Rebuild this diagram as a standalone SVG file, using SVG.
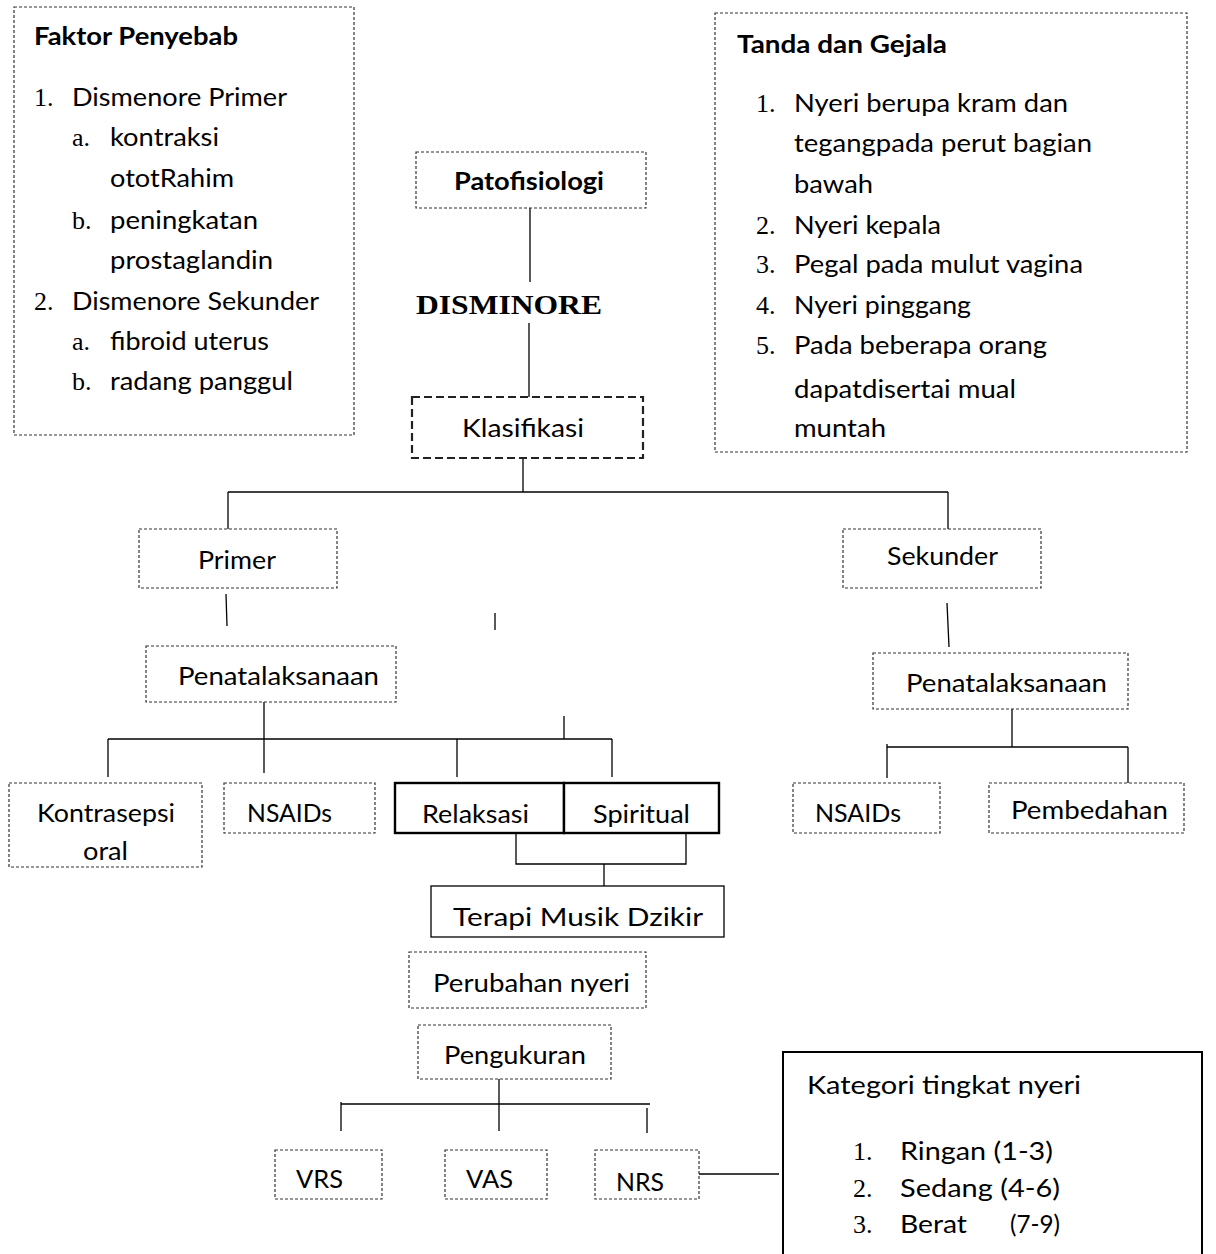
<svg xmlns="http://www.w3.org/2000/svg" width="1216" height="1254" viewBox="0 0 1216 1254">
<style>
  .dash { fill: #fff; stroke: #333; stroke-width: 1.2; stroke-dasharray: 3 2; }
  .dashB { fill: #fff; stroke: #222; stroke-width: 2.2; stroke-dasharray: 8 4; }
  .solid { fill: #fff; stroke: #000; stroke-width: 1.3; }
  .solidB { fill: #fff; stroke: #000; stroke-width: 2.4; }
  .t { font-family: Lato, "Open Sans", "Liberation Sans", sans-serif; font-size: 25px; fill: #000; }
  .b { font-weight: bold; }
  .n { font-family: "Liberation Serif", "Times New Roman", serif; font-size: 26px; fill: #000; }
  .ln { fill: none; stroke: #000; stroke-width: 1.3; }
</style>
<rect width="1216" height="1254" fill="#fff"/>

<g id="connectors">
  <line class="ln" x1="530" y1="208" x2="530" y2="282"/>
  <line class="ln" x1="529" y1="323" x2="529" y2="397"/>
  <line class="ln" x1="523" y1="458" x2="523" y2="492"/>
  <line class="ln" x1="228" y1="492" x2="948" y2="492"/>
  <line class="ln" x1="228" y1="492" x2="228" y2="529"/>
  <line class="ln" x1="948" y1="492" x2="948" y2="529"/>
  <line class="ln" x1="226" y1="594" x2="227" y2="626"/>
  <line class="ln" x1="495" y1="613" x2="495" y2="630"/>
  <line class="ln" x1="947" y1="603" x2="949" y2="647"/>
  <line class="ln" x1="264" y1="702" x2="264" y2="773"/>
  <line class="ln" x1="108" y1="739" x2="612" y2="739"/>
  <line class="ln" x1="108" y1="739" x2="108" y2="777"/>
  <line class="ln" x1="457" y1="739" x2="457" y2="777"/>
  <line class="ln" x1="612" y1="739" x2="612" y2="777"/>
  <line class="ln" x1="564" y1="716" x2="564" y2="739"/>
  <line class="ln" x1="1012" y1="709" x2="1012" y2="747"/>
  <line class="ln" x1="887" y1="747" x2="1128" y2="747"/>
  <line class="ln" x1="887" y1="744" x2="887" y2="778"/>
  <line class="ln" x1="1128" y1="747" x2="1128" y2="783"/>
  <polyline class="ln" points="516,833 516,864 686,864 686,833"/>
  <line class="ln" x1="604" y1="864" x2="604" y2="886"/>
  <line class="ln" x1="499" y1="1079" x2="499" y2="1131"/>
  <line class="ln" x1="341" y1="1104" x2="650" y2="1104"/>
  <line class="ln" x1="341" y1="1102" x2="341" y2="1131"/>
  <line class="ln" x1="647" y1="1108" x2="647" y2="1133"/>
  <line class="ln" x1="699" y1="1174" x2="779" y2="1174"/>
</g>

<g id="faktor-penyebab">
  <rect class="dash" x="14" y="7" width="340" height="428"/>
  <text class="t b" x="34" y="45" textLength="204" lengthAdjust="spacingAndGlyphs">Faktor Penyebab</text>
  <text class="n" x="34" y="106">1.</text>
  <text class="t" x="72" y="106" textLength="215" lengthAdjust="spacingAndGlyphs">Dismenore Primer</text>
  <text class="n" x="72" y="146">a.</text>
  <text class="t" x="110" y="146" textLength="109" lengthAdjust="spacingAndGlyphs">kontraksi</text>
  <text class="t" x="110" y="187" textLength="124" lengthAdjust="spacingAndGlyphs">ototRahim</text>
  <text class="n" x="72" y="229">b.</text>
  <text class="t" x="110" y="229" textLength="148" lengthAdjust="spacingAndGlyphs">peningkatan</text>
  <text class="t" x="110" y="269" textLength="163" lengthAdjust="spacingAndGlyphs">prostaglandin</text>
  <text class="n" x="34" y="310">2.</text>
  <text class="t" x="72" y="310" textLength="247" lengthAdjust="spacingAndGlyphs">Dismenore Sekunder</text>
  <text class="n" x="72" y="350">a.</text>
  <text class="t" x="110" y="350" textLength="159" lengthAdjust="spacingAndGlyphs">fibroid uterus</text>
  <text class="n" x="72" y="390">b.</text>
  <text class="t" x="110" y="390" textLength="183" lengthAdjust="spacingAndGlyphs">radang panggul</text>
</g>

<g id="tanda-gejala">
  <rect class="dash" x="715" y="13" width="472" height="439"/>
  <text class="t b" x="737" y="53" textLength="210" lengthAdjust="spacingAndGlyphs">Tanda dan Gejala</text>
  <text class="n" x="756" y="112">1.</text>
  <text class="t" x="794" y="112" textLength="274" lengthAdjust="spacingAndGlyphs">Nyeri berupa kram dan</text>
  <text class="t" x="794" y="152" textLength="298" lengthAdjust="spacingAndGlyphs">tegangpada perut bagian</text>
  <text class="t" x="794" y="193" textLength="79" lengthAdjust="spacingAndGlyphs">bawah</text>
  <text class="n" x="756" y="234">2.</text>
  <text class="t" x="794" y="234" textLength="147" lengthAdjust="spacingAndGlyphs">Nyeri kepala</text>
  <text class="n" x="756" y="273">3.</text>
  <text class="t" x="794" y="273" textLength="289" lengthAdjust="spacingAndGlyphs">Pegal pada mulut vagina</text>
  <text class="n" x="756" y="314">4.</text>
  <text class="t" x="794" y="314" textLength="177" lengthAdjust="spacingAndGlyphs">Nyeri pinggang</text>
  <text class="n" x="756" y="354">5.</text>
  <text class="t" x="794" y="354" textLength="253" lengthAdjust="spacingAndGlyphs">Pada beberapa orang</text>
  <text class="t" x="794" y="398" textLength="222" lengthAdjust="spacingAndGlyphs">dapatdisertai mual</text>
  <text class="t" x="794" y="437" textLength="92" lengthAdjust="spacingAndGlyphs">muntah</text>
</g>

<g id="patofisiologi">
  <rect class="dash" x="416" y="152" width="230" height="56"/>
  <text class="t b" x="454" y="190" textLength="150" lengthAdjust="spacingAndGlyphs">Patofisiologi</text>
</g>

<g id="disminore">
  <text x="416" y="314" font-family="'Liberation Serif', 'Times New Roman', serif" font-size="27" font-weight="bold" textLength="186" lengthAdjust="spacingAndGlyphs">DISMINORE</text>
</g>

<g id="klasifikasi">
  <rect class="dashB" x="412" y="397" width="231" height="61"/>
  <text class="t" x="462" y="437" textLength="122" lengthAdjust="spacingAndGlyphs">Klasifikasi</text>
</g>

<g id="primer">
  <rect class="dash" x="139" y="529" width="198" height="59"/>
  <text class="t" x="198" y="569" textLength="78" lengthAdjust="spacingAndGlyphs">Primer</text>
</g>

<g id="sekunder">
  <rect class="dash" x="843" y="529" width="198" height="59"/>
  <text class="t" x="887" y="565" textLength="111" lengthAdjust="spacingAndGlyphs">Sekunder</text>
</g>

<g id="penatalaksanaan-primer">
  <rect class="dash" x="146" y="646" width="250" height="56"/>
  <text class="t" x="178" y="685" textLength="201" lengthAdjust="spacingAndGlyphs">Penatalaksanaan</text>
</g>

<g id="penatalaksanaan-sekunder">
  <rect class="dash" x="873" y="653" width="255" height="56"/>
  <text class="t" x="906" y="692" textLength="201" lengthAdjust="spacingAndGlyphs">Penatalaksanaan</text>
</g>

<g id="kontrasepsi-oral">
  <rect class="dash" x="9" y="783" width="193" height="84"/>
  <text class="t" x="37" y="822" textLength="138" lengthAdjust="spacingAndGlyphs">Kontrasepsi</text>
  <text class="t" x="83" y="860" textLength="45" lengthAdjust="spacingAndGlyphs">oral</text>
</g>

<g id="nsaids-primer">
  <rect class="dash" x="224" y="783" width="151" height="50"/>
  <text class="t" x="247" y="822" textLength="85" lengthAdjust="spacingAndGlyphs">NSAIDs</text>
</g>

<g id="relaksasi">
  <rect class="solidB" x="395" y="783" width="169" height="50"/>
  <text class="t" x="422" y="823" textLength="107" lengthAdjust="spacingAndGlyphs">Relaksasi</text>
</g>

<g id="spiritual">
  <rect class="solidB" x="564" y="783" width="155" height="50"/>
  <text class="t" x="593" y="823" textLength="97" lengthAdjust="spacingAndGlyphs">Spiritual</text>
</g>

<g id="terapi-musik-dzikir">
  <rect class="solid" x="431" y="886" width="293" height="51"/>
  <text class="t" x="453" y="926" textLength="250" lengthAdjust="spacingAndGlyphs">Terapi Musik Dzikir</text>
</g>

<g id="nsaids-sekunder">
  <rect class="dash" x="793" y="783" width="147" height="50"/>
  <text class="t" x="815" y="822" textLength="86" lengthAdjust="spacingAndGlyphs">NSAIDs</text>
</g>

<g id="pembedahan">
  <rect class="dash" x="989" y="783" width="195" height="50"/>
  <text class="t" x="1011" y="819" textLength="157" lengthAdjust="spacingAndGlyphs">Pembedahan</text>
</g>

<g id="perubahan-nyeri">
  <rect class="dash" x="409" y="952" width="237" height="56"/>
  <text class="t" x="433" y="992" textLength="197" lengthAdjust="spacingAndGlyphs">Perubahan nyeri</text>
</g>

<g id="pengukuran">
  <rect class="dash" x="418" y="1025" width="193" height="54"/>
  <text class="t" x="444" y="1064" textLength="142" lengthAdjust="spacingAndGlyphs">Pengukuran</text>
</g>

<g id="vrs">
  <rect class="dash" x="275" y="1150" width="107" height="49"/>
  <text class="t" x="296" y="1188" textLength="47" lengthAdjust="spacingAndGlyphs">VRS</text>
</g>

<g id="vas">
  <rect class="dash" x="445" y="1150" width="102" height="49"/>
  <text class="t" x="466" y="1188" textLength="47" lengthAdjust="spacingAndGlyphs">VAS</text>
</g>

<g id="nrs">
  <rect class="dash" x="595" y="1150" width="104" height="49"/>
  <text class="t" x="616" y="1191" textLength="48" lengthAdjust="spacingAndGlyphs">NRS</text>
</g>

<g id="kategori-tingkat-nyeri">
  <rect x="783" y="1052" width="419" height="230" fill="#fff" stroke="#000" stroke-width="2"/>
  <text class="t" x="807" y="1094" textLength="274" lengthAdjust="spacingAndGlyphs">Kategori tingkat nyeri</text>
  <text class="n" x="853" y="1160">1.</text>
  <text class="t" x="900" y="1160" textLength="153" lengthAdjust="spacingAndGlyphs">Ringan (1-3)</text>
  <text class="n" x="853" y="1197">2.</text>
  <text class="t" x="900" y="1197" textLength="160" lengthAdjust="spacingAndGlyphs">Sedang (4-6)</text>
  <text class="n" x="853" y="1233">3.</text>
  <text class="t" x="900" y="1233" textLength="67" lengthAdjust="spacingAndGlyphs">Berat</text>
  <text class="t" x="1010" y="1233" textLength="50" lengthAdjust="spacingAndGlyphs">(7-9)</text>
</g>
</svg>
